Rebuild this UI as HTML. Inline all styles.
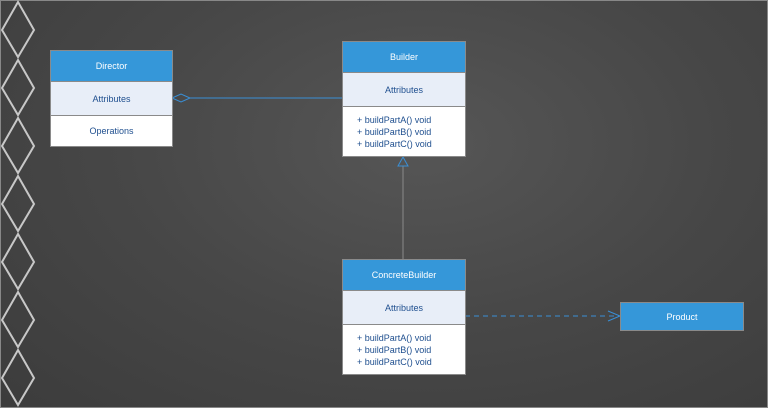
<!DOCTYPE html>
<html><head><style>
body{margin:0;width:768px;height:408px;overflow:hidden;font-family:"Liberation Sans",Arial,sans-serif;}
.bg{position:absolute;left:0;top:0;width:766px;height:406px;border:1px solid #888;background:radial-gradient(ellipse at 55% 35%,#565656 0%,#474747 50%,#3c3c3c 100%);}
.box{position:absolute;border:1px solid #8a8a8a;box-sizing:border-box;font-size:9px;}
.box div{box-sizing:border-box;}
.h{background:#3597d9;color:#fff;display:flex;align-items:center;justify-content:center;}
.a{background:#e8eef8;color:#1f4f8f;display:flex;align-items:center;justify-content:center;border-top:1px solid #8a8a8a;}
.o{background:#fff;color:#1f4f8f;border-top:1px solid #8a8a8a;}
</style></head><body>
<div class="bg"></div>
<svg style="position:absolute;left:0;top:0" width="768" height="408">
<g fill="none" stroke="#c8c8c8" stroke-width="2">
<path d="M18,2 L34,30 L18,57 L2,30 Z"/><path d="M18,60 L34,88 L18,115 L2,88 Z"/><path d="M18,118 L34,146 L18,173 L2,146 Z"/><path d="M18,176 L34,204 L18,231 L2,204 Z"/><path d="M18,234 L34,262 L18,289 L2,262 Z"/><path d="M18,292 L34,320 L18,347 L2,320 Z"/><path d="M18,350 L34,378 L18,405 L2,378 Z"/>
</g>
<g stroke="#3a8fd6" fill="none" stroke-width="1">
<path d="M172,98 L181,94 L190,98 L181,102 Z"/><line x1="190" y1="98" x2="342" y2="98"/>
<line x1="403" y1="166" x2="403" y2="259" stroke="#8a8a8a"/><path d="M403,157 L408,166 L398,166 Z"/>
<line x1="465" y1="316" x2="619" y2="316" stroke-dasharray="5,4"/><path d="M608,311 L620,316 L608,321"/>
</g>
</svg>
<div class="box" style="left:50px;top:50px;width:123px;height:97px">
<div class="h" style="height:30px">Director</div><div class="a" style="height:34px">Attributes</div><div class="o" style="height:31px;display:flex;align-items:center;justify-content:center">Operations</div></div>
<div class="box" style="left:342px;top:41px;width:124px;height:116px">
<div class="h" style="height:30px">Builder</div><div class="a" style="height:34px">Attributes</div><div class="o" style="height:50px;padding:7px 0 0 14px;line-height:12px">+ buildPartA() void<br>+ buildPartB() void<br>+ buildPartC() void</div></div>
<div class="box" style="left:342px;top:259px;width:124px;height:116px">
<div class="h" style="height:30px">ConcreteBuilder</div><div class="a" style="height:34px">Attributes</div><div class="o" style="height:50px;padding:7px 0 0 14px;line-height:12px">+ buildPartA() void<br>+ buildPartB() void<br>+ buildPartC() void</div></div>
<div class="box h" style="left:620px;top:302px;width:124px;height:29px">Product</div>
</body></html>
